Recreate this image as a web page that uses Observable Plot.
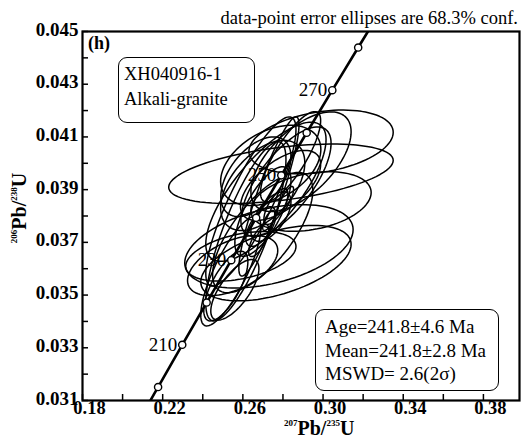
<!DOCTYPE html>
<html>
<head>
<meta charset="utf-8">
<script src="https://cdn.jsdelivr.net/npm/d3@7"></script>
<script src="https://cdn.jsdelivr.net/npm/@observablehq/plot@0.6"></script>
<style>
  body { margin: 0; background: #fff; }
  #wrap { position: relative; width: 524px; height: 439px; font-family: "Liberation Serif", "Times New Roman", serif; color: #000; }
  #wrap svg { position: absolute; left: 0; top: 0; }
  #wrap svg text { font-family: "Liberation Serif", "Times New Roman", serif; }
  .note { position: absolute; white-space: nowrap; line-height: 1; }
  .box { position: absolute; border: 1.6px solid #000; border-radius: 9px; box-sizing: border-box; background: #fff; }
  .box div { white-space: nowrap; }
  .sup { font-size: 0.45em; position: relative; top: -0.95em; }
</style>
</head>
<body>
<div id="wrap"></div>
<script>
// Concordia curve (206Pb/238U vs 207Pb/235U), ages in Ma
const concordiaAge = [195, 200, 210, 220, 230, 240, 250, 260, 270, 280, 285];
const concordia207 = [0.21173, 0.21771, 0.22976, 0.24193, 0.25422, 0.26664, 0.27917, 0.29183, 0.30462, 0.31753, 0.32403];
const concordia206 = [0.030711, 0.031511, 0.033113, 0.034717, 0.036323, 0.037932, 0.039543, 0.041157, 0.042773, 0.044392, 0.045202];
const markerAges = [200, 210, 220, 230, 240, 250, 260, 270, 280];
const labelAges = [210, 230, 250, 270];

// Zircon spot error ellipses: centre, half-extent in x and y, correlation
const ellX   = [0.279, 0.299, 0.273, 0.2765, 0.264, 0.273, 0.2615, 0.270, 0.2665, 0.2815, 0.254, 0.2515, 0.289, 0.274, 0.269, 0.2765, 0.259, 0.294, 0.2715, 0.256, 0.2699, 0.2788, 0.2679, 0.2813, 0.2729, 0.2549, 0.2838, 0.2699, 0.2739];
const ellY   = [0.0396, 0.04081, 0.03685, 0.03621, 0.03855, 0.03874, 0.03742, 0.03817, 0.03949, 0.0393, 0.03591, 0.03534, 0.04006, 0.03798, 0.0376, 0.03836, 0.03647, 0.03855, 0.03892, 0.0352, 0.03737, 0.03916, 0.03707, 0.03859, 0.03783, 0.03612, 0.04025, 0.03916, 0.03992];
const ellSX  = [0.056, 0.036, 0.042, 0.0375, 0.0225, 0.015, 0.020, 0.014, 0.0175, 0.0225, 0.015, 0.011, 0.025, 0.010, 0.0075, 0.006, 0.0275, 0.030, 0.030, 0.012, 0.025, 0.020, 0.005, 0.004, 0.003, 0.0225, 0.015, 0.021, 0.025];
const ellSY  = [0.00113, 0.00121, 0.00158, 0.00143, 0.00321, 0.00302, 0.0034, 0.0017, 0.00151, 0.00208, 0.00208, 0.00132, 0.00189, 0.00094, 0.00075, 0.00068, 0.00094, 0.00113, 0.00264, 0.00115, 0.00228, 0.00133, 0.00061, 0.00053, 0.00038, 0.00114, 0.00171, 0.00171, 0.00152];
const ellRho = [0.45, 0.3, 0.4, 0.5, 0.85, 0.9, 0.8, 0.7, 0.5, 0.7, 0.8, 0.7, 0.6, 0.6, 0.6, 0.7, 0.4, 0.3, 0.75, 0.7, 0.7, 0.6, 0.7, 0.8, 0.7, 0.5, 0.8, 0.5, 0.4];

// Axis ticks
const xMajor = [0.18, 0.22, 0.26, 0.30, 0.34, 0.38];
const xMinor = [0.18, 0.20, 0.22, 0.24, 0.26, 0.28, 0.30, 0.32, 0.34, 0.36, 0.38];
const yMajor = [0.031, 0.033, 0.035, 0.037, 0.039, 0.041, 0.043, 0.045];
const yMinor = [0.031, 0.032, 0.033, 0.034, 0.035, 0.036, 0.037, 0.038, 0.039, 0.040, 0.041, 0.042, 0.043, 0.044, 0.045];

const W = 524, H = 439;
const mL = 82, mR = 5, mT = 31, mB = 39;
const plotW = W - mL - mR, plotH = H - mT - mB;

const concordia = concordiaAge.map((a, i) => ({age: a, x: concordia207[i], y: concordia206[i]}));
const markers = concordia.filter(d => markerAges.includes(d.age));
const labelled = concordia.filter(d => labelAges.includes(d.age));

// Outline of each ellipse as a closed path
const ellipsePts = [];
ellX.forEach((cx, i) => {
  const r = ellRho[i], s = Math.sqrt(1 - r * r);
  for (let k = 0; k <= 90; k++) {
    const t = 2 * Math.PI * k / 90;
    ellipsePts.push({
      id: i,
      x: cx + ellSX[i] * Math.cos(t),
      y: ellY[i] + ellSY[i] * (r * Math.cos(t) + s * Math.sin(t))
    });
  }
});

const font = "Liberation Serif, Times New Roman, serif";

const chart = Plot.plot({
  width: W, height: H,
  marginLeft: mL, marginRight: mR, marginTop: mT, marginBottom: mB,
  style: {fontFamily: font, background: "transparent"},
  x: {domain: [0.18, 0.398]},
  y: {domain: [0.031, 0.045]},
  marks: [
    Plot.line(ellipsePts, {x: "x", y: "y", z: "id", stroke: "#000", strokeWidth: 1.5, clip: true}),
    Plot.line(concordia, {x: "x", y: "y", stroke: "#000", strokeWidth: 2.6, curve: "catmull-rom", clip: true}),
    Plot.dot(markers, {x: "x", y: "y", r: 3.6, fill: "#fff", stroke: "#000", strokeWidth: 1.4}),
    Plot.text(labelled, {x: "x", y: "y", text: d => String(d.age), textAnchor: "end", dx: -5, fontSize: 19}),
    Plot.tickX(xMinor, {x: d => d, insetTop: plotH - 6, stroke: "#000", strokeWidth: 1.5}),
    Plot.tickY(yMinor, {y: d => d, insetRight: plotW - 6, stroke: "#000", strokeWidth: 1.5}),
    Plot.axisX({ticks: xMajor, tickSize: 0, tickPadding: 0, dx: 7, tickFormat: d3.format(".2f"), fontSize: 18.5, fontWeight: "bold", label: null}),
    Plot.axisY({ticks: yMajor, tickSize: 0, tickPadding: 4, dy: -2, tickFormat: d3.format(".3f"), fontSize: 19, fontWeight: "bold", label: null}),
    Plot.frame({stroke: "#000", strokeWidth: 2.2})
  ]
});

const wrap = document.getElementById("wrap");
wrap.appendChild(chart);

wrap.insertAdjacentHTML("beforeend", `
  <div class="note" style="right:6px; top:9px; font-size:18.5px;">data-point error ellipses are 68.3% conf.</div>
  <div class="note" style="left:88px; top:34px; font-size:18px; font-weight:bold;">(h)</div>
  <div class="box" style="left:118px; top:57px; width:137px; height:66px; padding:4px 0 0 5px; font-size:18.5px; line-height:25px;">
    <div>XH040916-1</div><div>Alkali-granite</div>
  </div>
  <div class="box" style="left:315px; top:309px; width:184px; height:82px; padding:5px 0 0 9px; font-size:19px; line-height:23.5px;">
    <div>Age=241.8±4.6 Ma</div><div>Mean=241.8±2.8 Ma</div><div>MSWD= 2.6(2σ)</div>
  </div>
  <div class="note" style="left:284px; top:418px; font-size:20px; font-weight:bold;"><span class="sup">207</span>Pb/<span class="sup">235</span>U</div>
  <div class="note" style="left:19px; top:208px; font-size:20px; font-weight:bold; transform: translate(-50%,-50%) rotate(-90deg);"><span class="sup">206</span>Pb/<span class="sup">238</span>U</div>
`);
</script>
</body>
</html>
